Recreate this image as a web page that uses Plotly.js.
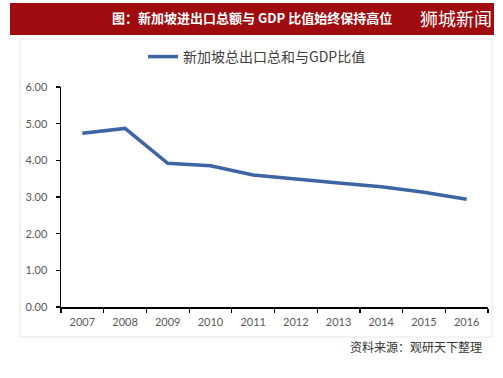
<!DOCTYPE html>
<html>
<head>
<meta charset="utf-8">
<script src="https://cdn.plot.ly/plotly-3.0.1.min.js"></script>
<style>html,body{margin:0;padding:0;background:#fff;}#chart{width:503px;height:378px;}</style>
</head>
<body>
<div id="chart"></div>
<script>
const years = ['2007','2008','2009','2010','2011','2012','2013','2014','2015','2016'];
const ratio = [4.74, 4.87, 3.92, 3.85, 3.60, 3.48, 3.38, 3.28, 3.13, 2.94];
const seriesName = '新加坡总出口总和与GDP比值';
const headerTitle = '图：新加坡进出口总额与 GDP 比值始终保持高位';
const brandText = '狮城新闻';
const sourceText = '资料来源：观研天下整理';

const W = 503, H = 378, L = 61, R = 15, T = 87, B = 71;
const pw = W - L - R, ph = H - T - B;
const px = x => (x - L) / pw;
const py = y => (H - B - y) / ph;

const cjk = '"Noto Sans CJK SC", "Noto Sans", sans-serif';
const num = 'Lato, "Open Sans", sans-serif';

const trace = {
  x: years, y: ratio, type: 'scatter', mode: 'lines', name: seriesName,
  line: {color: '#3d64a3', width: 3.5}
};

const layout = {
  width: W, height: H,
  margin: {l: L, r: R, t: T, b: B, pad: 0},
  paper_bgcolor: '#ffffff', plot_bgcolor: '#ffffff',
  showlegend: true,
  legend: {
    orientation: 'h', x: px(143), xanchor: 'left', y: py(57), yanchor: 'middle',
    font: {family: cjk, size: 14, color: '#404040'},
    itemwidth: 30, bgcolor: 'rgba(0,0,0,0)'
  },
  xaxis: {
    type: 'category', range: [-0.5, 9.5], tickson: 'boundaries',
    showline: true, linecolor: '#000', linewidth: 1.5,
    ticks: 'outside', ticklen: 4, tickcolor: '#000', tickwidth: 1.2,
    showgrid: false, zeroline: false, fixedrange: true,
    tickfont: {family: num, size: 11, color: '#595959'},
    ticklabelstandoff: 4
  },
  yaxis: {
    range: [0, 6], dtick: 1, tickformat: '.2f',
    showline: true, linecolor: '#000', linewidth: 1.5,
    ticks: 'outside', ticklen: 4, tickcolor: '#000', tickwidth: 1.2,
    showgrid: false, zeroline: false, fixedrange: true,
    tickfont: {family: num, size: 11, color: '#595959'},
    ticklabelstandoff: 6
  },
  shapes: [
    {type: 'rect', xref: 'paper', yref: 'paper', x0: px(20), x1: px(492), y0: py(337), y1: py(39),
     line: {color: '#e6e6e6', width: 1}, fillcolor: 'rgba(0,0,0,0)', layer: 'below'},
    {type: 'rect', xref: 'paper', yref: 'paper', x0: px(10), x1: px(494), y0: py(35), y1: py(3),
     line: {width: 0}, fillcolor: '#9f0b0e', layer: 'above'}
  ],
  annotations: [
    {text: '<b>' + headerTitle + '</b>', xref: 'paper', yref: 'paper', x: px(252), y: py(18),
     xanchor: 'center', yanchor: 'middle', showarrow: false,
     font: {family: cjk, size: 13, color: '#ffffff'}},
    {text: brandText, xref: 'paper', yref: 'paper', x: px(418), y: py(18),
     xanchor: 'left', yanchor: 'middle', showarrow: false,
     font: {family: cjk, size: 18, color: '#ffffff'}},
    {text: sourceText, xref: 'paper', yref: 'paper', x: px(484), y: py(346),
     xanchor: 'right', yanchor: 'middle', showarrow: false,
     font: {family: cjk, size: 12, color: '#333333'}}
  ]
};

Plotly.newPlot('chart', [trace], layout, {displayModeBar: false, staticPlot: true});
</script>
</body>
</html>
